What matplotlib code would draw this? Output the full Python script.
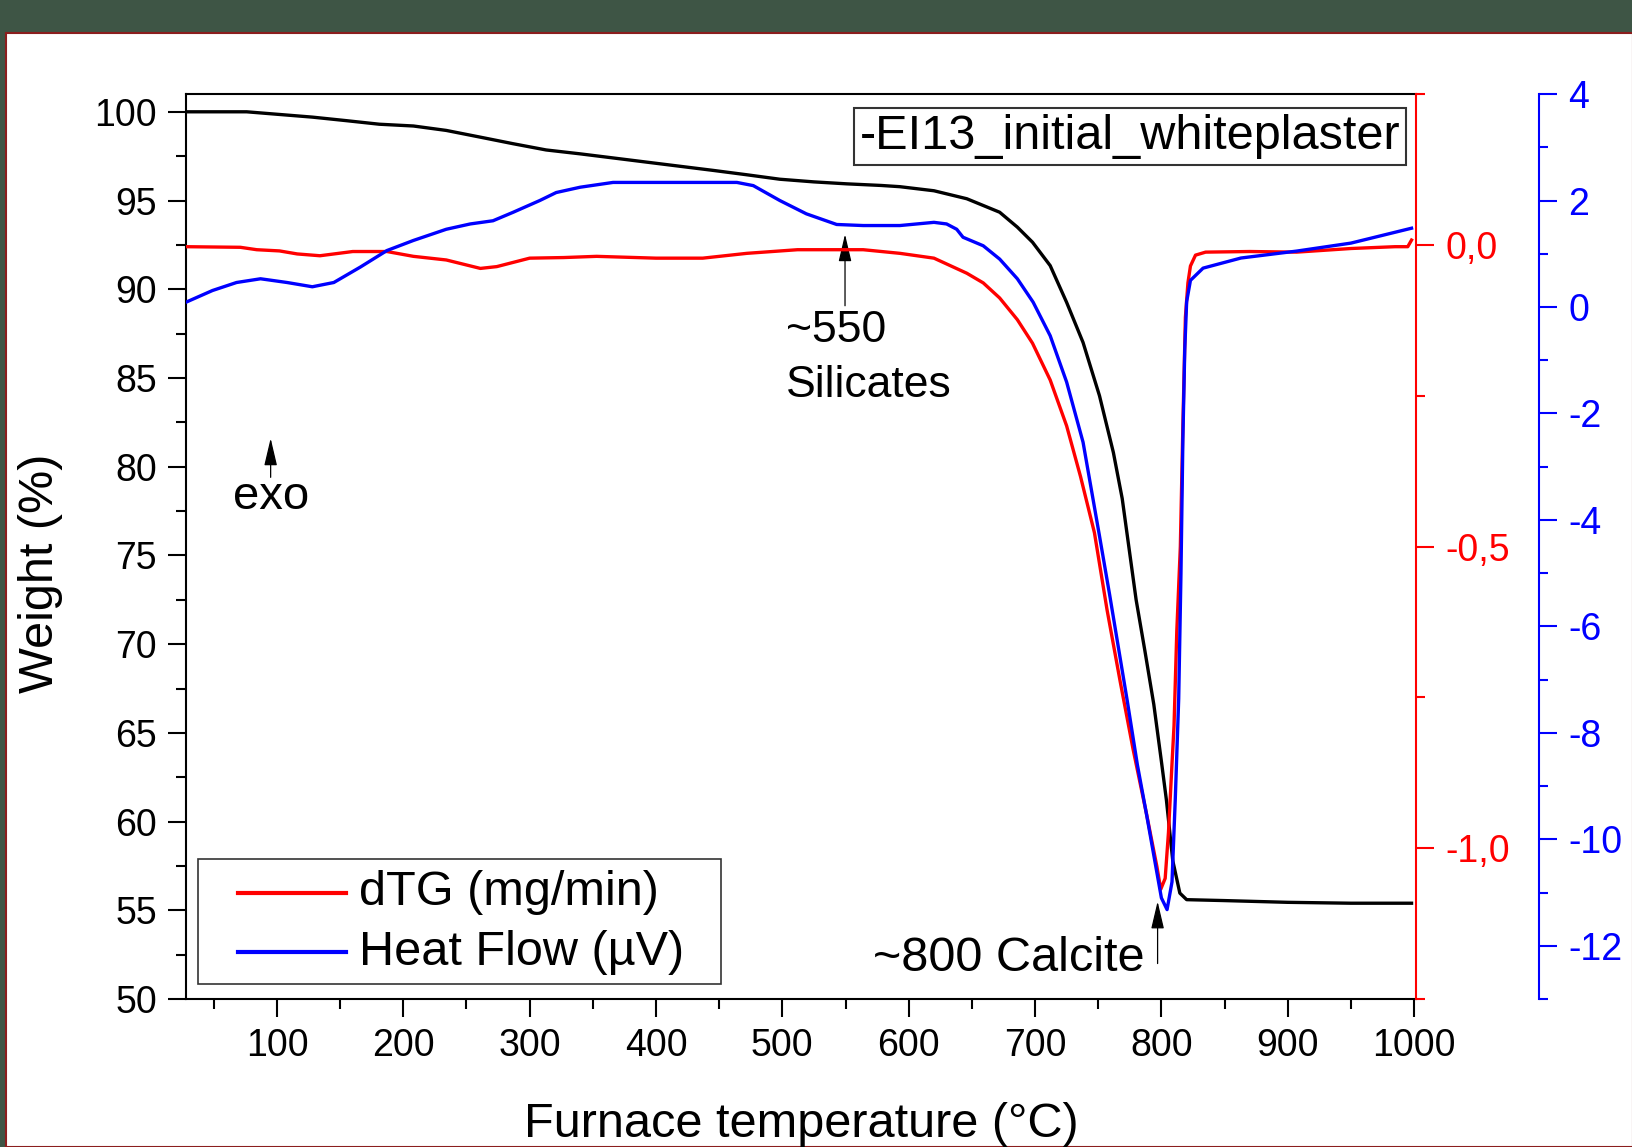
import numpy as np
import matplotlib
matplotlib.use('Agg')
import matplotlib.pyplot as plt
from matplotlib.patches import Rectangle
from matplotlib.lines import Line2D
from matplotlib.ticker import MultipleLocator, FuncFormatter

plt.rcParams['font.family'] = ['Liberation Sans', 'DejaVu Sans']
plt.rcParams['axes.unicode_minus'] = False

# TG curve (weight %)
temp_tg = [28, 76, 102, 128, 155, 181, 208, 234, 261, 287, 313, 340, 366, 393, 419,
           445, 472, 498, 525, 551, 578, 593, 620, 646, 672, 686, 698, 712, 725, 738,
           751, 762, 769, 780, 787, 794, 800, 804, 809, 814.6, 820, 849, 900, 950, 998]
weight = [100.0, 100.0, 99.85, 99.7, 99.5, 99.3, 99.2, 98.95, 98.57, 98.2, 97.85, 97.63,
          97.4, 97.16, 96.93, 96.7, 96.45, 96.2, 96.05, 95.94, 95.85, 95.78, 95.55, 95.1,
          94.34, 93.5, 92.65, 91.33, 89.26, 87.0, 84.0, 80.8, 78.2, 72.5, 69.6, 66.6,
          63.4, 61.2, 57.8, 55.97, 55.6, 55.55, 55.45, 55.4, 55.4]

# dTG curve (mg/min)
temp_dtg = [28, 71, 84, 102, 116, 134, 160, 187, 208, 234, 261, 274, 300, 327, 353, 400,
            437, 472, 512, 564, 593, 620, 646, 659, 672, 686, 698, 712, 725, 736, 747,
            757, 767.5, 777.6, 788.5, 796.4, 799.5, 803, 805.6, 808.3, 810, 812.2, 815,
            817, 819, 821, 823, 827, 835, 870, 907, 950, 985, 995, 998]
dtg = [-0.003, -0.004, -0.008, -0.010, -0.015, -0.018, -0.011, -0.011, -0.019, -0.025,
       -0.039, -0.036, -0.022, -0.021, -0.019, -0.022, -0.022, -0.014, -0.008, -0.008,
       -0.014, -0.022, -0.047, -0.063, -0.088, -0.124, -0.163, -0.224, -0.30, -0.384,
       -0.477, -0.605, -0.725, -0.836, -0.946, -1.03, -1.068, -1.05, -0.974, -0.864,
       -0.797, -0.64, -0.5, -0.3, -0.12, -0.063, -0.035, -0.017, -0.012, -0.011, -0.012,
       -0.006, -0.003, -0.003, 0.008]

# Heat flow curve (uV)
temp_hf = [28, 49, 68, 87, 108, 128, 145, 166, 187, 208, 234, 253, 271, 287, 308, 321,
           340, 366, 419, 464, 477, 498, 519, 543, 564, 593, 620, 630, 638, 643, 659, 672,
           686, 698.5, 712, 725, 738, 751, 759, 766, 773, 781, 788, 794, 800, 804.5, 808.4,
           811, 813.7, 815.5, 817, 818.5, 820, 823, 833, 863, 907, 950, 998]
heat_flow = [0.09, 0.31, 0.46, 0.53, 0.46, 0.38, 0.46, 0.75, 1.06, 1.25, 1.46, 1.56, 1.62,
             1.78, 2.0, 2.15, 2.25, 2.34, 2.34, 2.34, 2.28, 2.0, 1.75, 1.55, 1.53, 1.53,
             1.59, 1.56, 1.46, 1.31, 1.15, 0.9, 0.53, 0.09, -0.54, -1.41, -2.54, -4.3,
             -5.4, -6.4, -7.4, -8.6, -9.5, -10.3, -11.1, -11.32, -10.8, -9.24, -7.36, -5.0,
             -2.5, -0.8, 0.1, 0.5, 0.73, 0.92, 1.05, 1.2, 1.48]

legend_labels = ['dTG (mg/min)', 'Heat Flow (µV)']
legend_colors = ['red', 'blue']

fig = plt.figure(figsize=(16.33, 11.47), dpi=100)
fig.patch.set_facecolor('#3e5545')
fig.add_artist(Rectangle((6 / 1633, 0), 1 - 6 / 1633, (1147 - 33) / 1147,
                         transform=fig.transFigure, facecolor='white',
                         edgecolor='#8b1e1e', linewidth=1.5, zorder=-1))

ax = fig.add_axes([0.1139, 0.1290, 0.7532, 0.7890])
ax2 = ax.twinx()
ax3 = ax.twinx()
ax3.spines['right'].set_position(('axes', 1.1))

ax.plot(temp_tg, weight, color='black', lw=2.4)
ax2.plot(temp_dtg, dtg, color='red', lw=2.4)
ax3.plot(temp_hf, heat_flow, color='blue', lw=2.4)

ax.set_xlim(28, 1001.5)
ax.set_ylim(50, 101)
ax2.set_ylim(-1.25, 0.25)
ax3.set_ylim(-13, 4)

ax.xaxis.set_major_locator(MultipleLocator(100))
ax.xaxis.set_minor_locator(MultipleLocator(50))
ax.yaxis.set_major_locator(MultipleLocator(5))
ax.yaxis.set_minor_locator(MultipleLocator(2.5))
ax2.yaxis.set_major_locator(MultipleLocator(0.5))
ax2.yaxis.set_minor_locator(MultipleLocator(0.25))
ax2.yaxis.set_major_formatter(FuncFormatter(lambda v, p: f'{v:.1f}'.replace('.', ',')))
ax3.yaxis.set_major_locator(MultipleLocator(2))
ax3.yaxis.set_minor_locator(MultipleLocator(1))

for s in ['left', 'top', 'bottom']:
    ax2.spines[s].set_visible(False)
    ax3.spines[s].set_visible(False)
ax.spines['right'].set_visible(False)
for s in ['left', 'top', 'bottom']:
    ax.spines[s].set_linewidth(1.5)
ax2.spines['right'].set_color('red')
ax2.spines['right'].set_linewidth(1.5)
ax3.spines['right'].set_color('blue')
ax3.spines['right'].set_linewidth(1.5)

ax.tick_params(which='both', direction='out', width=1.5, labelsize=27, pad=8,
               top=False, right=False)
ax.tick_params(which='major', length=13)
ax.tick_params(which='minor', length=7)
ax2.tick_params(which='both', direction='out', width=1.5, color='red',
                labelcolor='red', labelsize=27, pad=8)
ax2.tick_params(which='major', length=13)
ax2.tick_params(which='minor', length=6.5)
ax3.tick_params(which='both', direction='out', width=1.5, color='blue',
                labelcolor='blue', labelsize=27, pad=8)
ax3.tick_params(which='major', length=13)
ax3.tick_params(which='minor', length=6.5)

ax.set_xlabel('Furnace temperature (°C)', fontsize=35)
ax.set_ylabel('Weight (%)', fontsize=35)
ax.xaxis.set_label_coords(0.5, -0.114)
ax.yaxis.set_label_coords(-0.10, 0.47)

ax.text(0.7675, 0.953, '-EI13_initial_whiteplaster', transform=ax.transAxes,
        fontsize=35, ha='center', va='center',
        bbox=dict(boxstyle='square,pad=0.12', fc='white', ec='#333333', lw=1.5))

arrow = dict(arrowstyle='-|>,head_length=0.85,head_width=0.2', color='black',
             lw=0.9, mutation_scale=20, shrinkA=0, shrinkB=0)
ax.annotate('', xy=(549.6, 93.1), xytext=(549.6, 89.07), arrowprops=arrow)
ax.annotate('', xy=(95, 81.6), xytext=(95, 79.4), arrowprops=arrow)
ax.annotate('', xy=(797, 55.5), xytext=(797, 52.0), arrowprops=arrow)
ax.text(503, 87.0, '~550', fontsize=32, va='baseline')
ax.text(503, 83.9, 'Silicates', fontsize=32, va='baseline')
ax.text(65.4, 77.6, 'exo', fontsize=34, va='baseline')
ax.text(572, 51.6, '~800 Calcite', fontsize=35, va='baseline')

# legend box drawn by hand to match the original spacing
ax3.add_patch(Rectangle((0.0098, 0.0166), 0.4252, 0.1381, transform=ax3.transAxes,
                        facecolor='white', edgecolor='#333333', lw=1.2, zorder=5))
for i, (lab, col) in enumerate(zip(legend_labels, legend_colors)):
    yy = 0.1176 - i * 0.0657
    ax3.add_line(Line2D([0.0419, 0.1303], [yy, yy], transform=ax3.transAxes,
                        color=col, lw=3, zorder=6))
    ax3.text(0.1407, yy, lab, transform=ax3.transAxes, fontsize=35,
             va='center', ha='left', zorder=6)

fig.savefig('out.png', dpi=100, facecolor=fig.get_facecolor())
